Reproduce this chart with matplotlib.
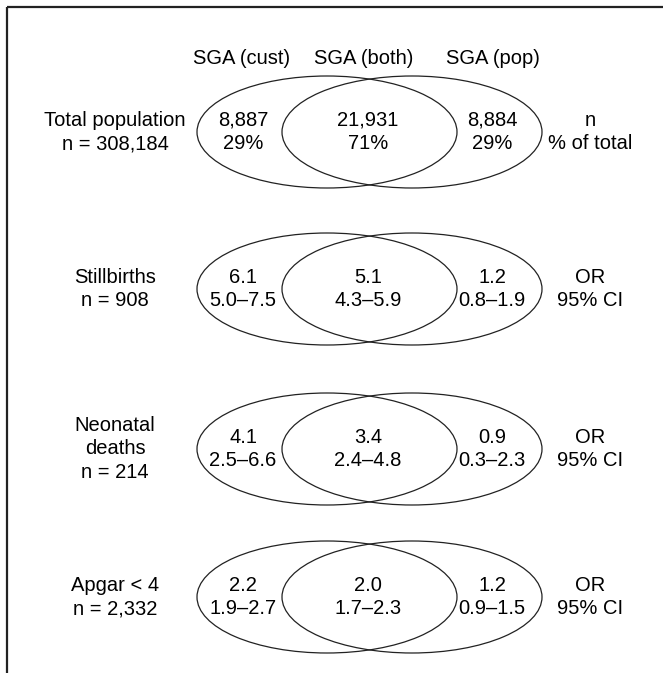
#Venn-style diagram: SGA by customised vs population standards, OR per outcome
import matplotlib.pyplot as plt
from matplotlib.patches import Ellipse

plt.rcParams['font.family'] = ['Liberation Sans', 'DejaVu Sans']

#data
headers = ['SGA (cust)', 'SGA (both)', 'SGA (pop)']
row_labels = ['Total population\nn = 308,184', 'Stillbirths\nn = 908',
              'Neonatal\ndeaths\nn = 214', 'Apgar < 4\nn = 2,332']
cust_vals = ['8,887\n29%', '6.1\n5.0\u20137.5', '4.1\n2.5\u20136.6', '2.2\n1.9\u20132.7']
both_vals = ['21,931\n71%', '5.1\n4.3\u20135.9', '3.4\n2.4\u20134.8', '2.0\n1.7\u20132.3']
pop_vals = ['8,884\n29%', '1.2\n0.8\u20131.9', '0.9\n0.3\u20132.3', '1.2\n0.9\u20131.5']
row_units = ['n\n% of total', 'OR\n95% CI', 'OR\n95% CI', 'OR\n95% CI']

#layout in pixel coordinates
row_y = [132, 289, 449, 597]
left_cx, right_cx = 327, 412
ell_w, ell_h = 260, 112

fig = plt.figure(figsize=(6.63, 6.73), dpi=100)
ax = fig.add_axes([0, 0, 1, 1])
ax.set_xlim(0, 663)
ax.set_ylim(673, 0)
ax.axis('off')

#frame (top and left only)
ax.plot([7, 663], [7, 7], color='#222222', lw=1.6, solid_capstyle='butt')
ax.plot([7, 7], [7, 673], color='#222222', lw=1.6, solid_capstyle='butt')

fs = 14.5
ls = 1.3
for x, h in zip([242, 364, 493], headers):
    ax.text(x, 58, h, ha='center', va='center', fontsize=fs)

for i, y in enumerate(row_y):
    for cx in (left_cx, right_cx):
        ax.add_patch(Ellipse((cx, y), ell_w, ell_h, fill=False, ec='#222222', lw=0.9))
    ax.text(115, y, row_labels[i], ha='center', va='center', fontsize=fs, linespacing=ls)
    ax.text(243, y, cust_vals[i], ha='center', va='center', fontsize=fs, linespacing=ls)
    ax.text(368, y, both_vals[i], ha='center', va='center', fontsize=fs, linespacing=ls)
    ax.text(492, y, pop_vals[i], ha='center', va='center', fontsize=fs, linespacing=ls)
    ax.text(590, y, row_units[i], ha='center', va='center', fontsize=fs, linespacing=ls)

fig.savefig('out.png', dpi=100)
